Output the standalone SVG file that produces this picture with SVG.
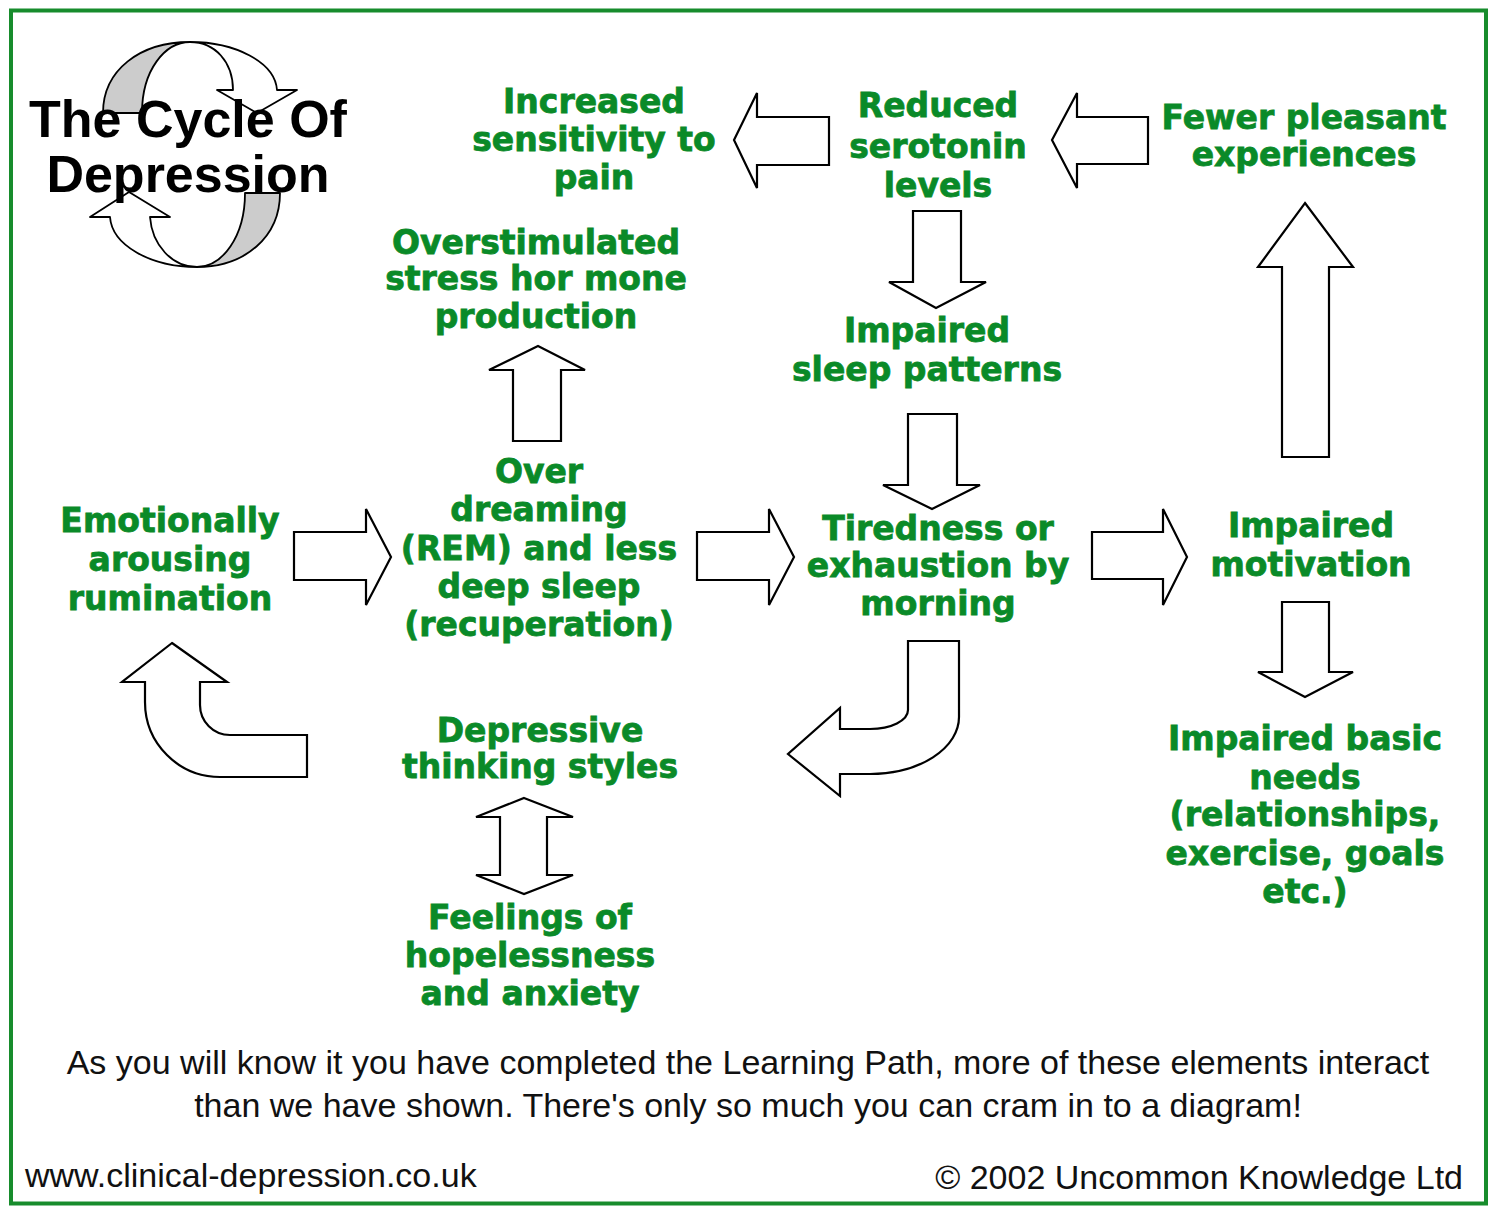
<svg xmlns="http://www.w3.org/2000/svg" width="1492" height="1207" viewBox="0 0 1492 1207">
<style>
.lbl{font-family:"DejaVu Sans","Verdana",sans-serif;font-weight:bold;font-size:33px;fill:#0a8a28;stroke:#0a8a28;stroke-width:0.8;text-anchor:middle}
.title{font-family:"Liberation Sans","Arial",sans-serif;font-weight:bold;font-size:52px;fill:#000;text-anchor:middle}
.note{font-family:"Liberation Sans","Arial",sans-serif;font-size:34px;fill:#111}
.arr{fill:#fff;stroke:#000;stroke-width:2.2;stroke-linejoin:miter}
.logo{stroke:#000;stroke-width:1.8;stroke-linejoin:round}
</style>
<rect x="0" y="0" width="1492" height="1207" fill="#fff"/>
<rect x="11" y="10.5" width="1475" height="1193" fill="none" stroke="#178c2c" stroke-width="4"/>

<g id="logo">
  <path class="logo" fill="#cccccc" d="M103,113 C103,70 140,42 190,42 C165,42 142,70 142,113 Z"/>
  <path class="logo" fill="#fff" d="M190,42 C235,42 275,62 277,90 L297,90 L257,113 L217,90 L233,90 C233,62 215,42 190,42 Z"/>
  <path class="logo" fill="#cccccc" d="M280,193 C280,237 245,267 197,267 C222,267 245,237 245,193 Z"/>
  <path class="logo" fill="#fff" d="M197,267 C150,267 112,245 110,217 L90,217 L129,192 L170,217 L150,217 C152,245 172,267 197,267 Z"/>
  <text class="title" x="188" y="137">The Cycle Of</text>
  <text class="title" x="188" y="192">Depression</text>
</g>

<g id="connectors">
  <path id="a-reduced-increased" class="arr" d="M734,140 L757,93 L757,117 L829,117 L829,165 L757,165 L757,188 Z"/>
  <path id="a-fewer-reduced" class="arr" d="M1052,140 L1077,93 L1077,117 L1148,117 L1148,164 L1077,164 L1077,188 Z"/>
  <path id="a-reduced-sleep" class="arr" d="M913,211 L961,211 L961,282 L986,282 L936,308 L889,282 L913,282 Z"/>
  <path id="a-sleep-tired" class="arr" d="M908,414 L957,414 L957,485 L980,485 L932,509 L883,485 L908,485 Z"/>
  <path id="a-over-stress" class="arr" d="M538,346 L585,370 L561,370 L561,441 L513,441 L513,370 L489,370 Z"/>
  <path id="a-emo-over" class="arr" d="M294,532 L366,532 L366,509 L391,557 L366,605 L366,580 L294,580 Z"/>
  <path id="a-over-tired" class="arr" d="M697,532 L769,532 L769,509 L794,557 L769,605 L769,580 L697,580 Z"/>
  <path id="a-tired-motiv" class="arr" d="M1092,532 L1163,532 L1163,509 L1187,557 L1163,605 L1163,579 L1092,579 Z"/>
  <path id="a-motiv-fewer" class="arr" d="M1305,203 L1353,267 L1329,267 L1329,457 L1282,457 L1282,267 L1258,267 Z"/>
  <path id="a-motiv-needs" class="arr" d="M1282,602 L1329,602 L1329,672 L1353,672 L1305,697 L1258,672 L1282,672 Z"/>
  <path id="a-depr-feel" class="arr" d="M524,798 L573,817 L547,817 L547,875 L573,875 L524,894 L476,875 L500,875 L500,817 L476,817 Z"/>
  <path id="a-depr-emo" class="arr" d="M172,643 L227,682 L200,682 L200,705 A30,30 0 0 0 230,735 L307,735 L307,777 L220,777 A75,75 0 0 1 145,702 L145,682 L122,682 Z"/>
  <path id="a-tired-depr" class="arr" d="M908,641 L959,641 L959,717 A89,57 0 0 1 870,774 L840,774 L840,796 L788,754 L840,708 L840,729 L870,729 A38,19 0 0 0 908,710 Z"/>
</g>

<g id="n-increased">
  <text class="lbl" x="594" y="113">Increased</text>
  <text class="lbl" x="594" y="151">sensitivity to</text>
  <text class="lbl" x="594" y="189">pain</text>
</g>
<g id="n-reduced">
  <text class="lbl" x="938" y="117">Reduced</text>
  <text class="lbl" x="938" y="158">serotonin</text>
  <text class="lbl" x="938" y="197">levels</text>
</g>
<g id="n-fewer">
  <text class="lbl" x="1304" y="129">Fewer pleasant</text>
  <text class="lbl" x="1304" y="166">experiences</text>
</g>
<g id="n-stress">
  <text class="lbl" x="536" y="254">Overstimulated</text>
  <text class="lbl" x="536" y="290">stress hor mone</text>
  <text class="lbl" x="536" y="328">production</text>
</g>
<g id="n-sleep">
  <text class="lbl" x="927" y="342">Impaired</text>
  <text class="lbl" x="927" y="381">sleep patterns</text>
</g>
<g id="n-emotion">
  <text class="lbl" x="170" y="532">Emotionally</text>
  <text class="lbl" x="170" y="571">arousing</text>
  <text class="lbl" x="170" y="610">rumination</text>
</g>
<g id="n-over">
  <text class="lbl" x="539" y="483">Over</text>
  <text class="lbl" x="539" y="521">dreaming</text>
  <text class="lbl" x="539" y="560">(REM) and less</text>
  <text class="lbl" x="539" y="598">deep sleep</text>
  <text class="lbl" x="539" y="636">(recuperation)</text>
</g>
<g id="n-tired">
  <text class="lbl" x="938" y="540">Tiredness or</text>
  <text class="lbl" x="938" y="577">exhaustion by</text>
  <text class="lbl" x="938" y="615">morning</text>
</g>
<g id="n-motivation">
  <text class="lbl" x="1311" y="537">Impaired</text>
  <text class="lbl" x="1311" y="576">motivation</text>
</g>
<g id="n-depressive">
  <text class="lbl" x="540" y="742">Depressive</text>
  <text class="lbl" x="540" y="778">thinking styles</text>
</g>
<g id="n-feelings">
  <text class="lbl" x="530" y="929">Feelings of</text>
  <text class="lbl" x="530" y="967">hopelessness</text>
  <text class="lbl" x="530" y="1005">and anxiety</text>
</g>
<g id="n-needs">
  <text class="lbl" x="1305" y="750">Impaired basic</text>
  <text class="lbl" x="1305" y="789">needs</text>
  <text class="lbl" x="1305" y="826">(relationships,</text>
  <text class="lbl" x="1305" y="865">exercise, goals</text>
  <text class="lbl" x="1305" y="903">etc.)</text>
</g>

<g id="footer">
  <text class="note" x="748" y="1074" text-anchor="middle">As you will know it you have completed the Learning Path, more of these elements interact</text>
  <text class="note" x="748" y="1117" text-anchor="middle">than we have shown. There's only so much you can cram in to a diagram!</text>
  <text class="note" x="25" y="1187">www.clinical-depression.co.uk</text>
  <text class="note" x="1463" y="1189" text-anchor="end">© 2002 Uncommon Knowledge Ltd</text>
</g>
</svg>
